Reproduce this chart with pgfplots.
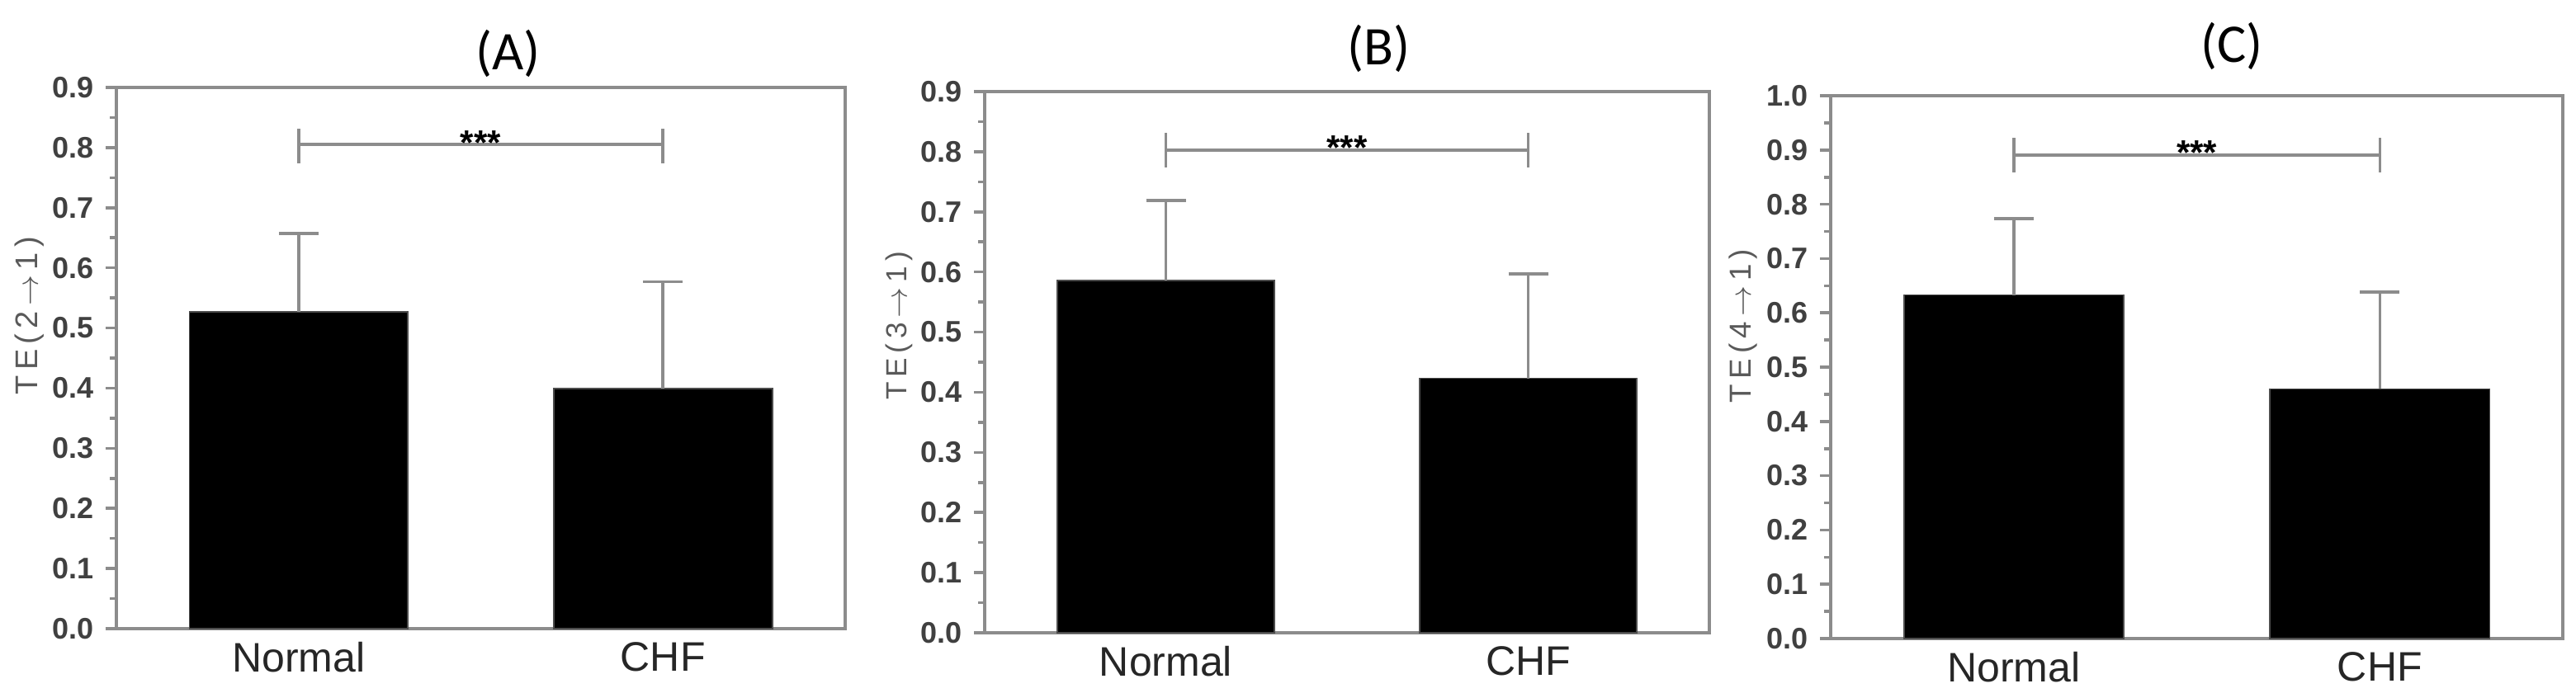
\documentclass[border=0pt]{standalone}
\usepackage{fontspec}
\setmainfont{Liberation Sans}
\newfontfamily\titlefont{Carlito}
\usepackage{pgfplots}
\pgfplotsset{compat=1.18}
\usepackage{pgfplotstable}

\definecolor{axgray}{gray}{0.55}
\definecolor{tickgray}{gray}{0.25}
\definecolor{labgray}{gray}{0.35}
\definecolor{errgray}{gray}{0.55}

\pgfplotstableread{
x y err
1 0.527 0.130
2 0.399 0.178
}\dataA
\pgfplotstableread{
x y err
1 0.586 0.133
2 0.423 0.174
}\dataB
\pgfplotstableread{
x y err
1 0.633 0.141
2 0.460 0.178
}\dataC

\pgfplotsset{
  panel/.style={
    scale only axis,
    clip=false,
    anchor=south west,
    xmin=0.5, xmax=2.5, ymin=0,
    axis line style={axgray, line width=1pt},
    xtick={1,2}, xticklabels={Normal,CHF},
    xtick style={draw=none},
    ytick distance=0.1, minor y tick num=1,
    y tick style={axgray, line width=0.9pt},
    tick align=outside,
    major tick length=3.25pt, minor tick length=2pt,
    ytick pos=left, xtick pos=bottom,
    /pgf/number format/assume math mode=true,
    yticklabel style={font=\fontsize{9}{10}\selectfont\bfseries, text=tickgray,
      /pgf/number format/fixed, /pgf/number format/fixed zerofill, /pgf/number format/precision=1},
    xticklabel style={font=\fontsize{12.5}{13}\selectfont, text=black!85, yshift=2.75pt},
    ylabel style={anchor=center, text=labgray},
  },
  bars/.style={ybar, bar width=0.6, bar shift=0pt, fill=black, draw=black!70,
    error bars/.cd, y dir=plus, y explicit,
    error bar style={errgray, line width=0.9pt},
    error mark options={errgray, line width=0.9pt, mark size=6pt, rotate=90}},
  sig/.style={axgray, line width=0.9pt},
}

\begin{document}
\begin{tikzpicture}
\path[use as bounding box] (0,0) rectangle (780.25pt,209.75pt);

% Panel A
\begin{axis}[panel, at={(35.25pt,19.25pt)}, width=220.75pt, height=164pt, ymax=0.9,
  ylabel={\fontsize{9.5}{10}\selectfont T\,E\,(\,2\,$\rightarrow$\,1\,)},
  ylabel style={at={(rel axis cs:-0.119,0.578)}}]
\addplot[bars] table[x=x, y=y, y error=err] {\dataA};
\addplot[sig] coordinates {(1,0.805) (2,0.805)};
\addplot[sig] coordinates {(1,0.774) (1,0.832)};
\addplot[sig] coordinates {(2,0.774) (2,0.832)};
\node[font=\fontsize{10.5}{10}\selectfont\bfseries, anchor=base, yshift=-3pt] at (axis cs:1.5,0.805) {***};
\node[font=\titlefont\fontsize{16.5}{17}\selectfont] at (rel axis cs:0.537,1) [yshift=10.25pt] {(A)};
\end{axis}

% Panel B
\begin{axis}[panel, at={(298.25pt,18pt)}, width=219.5pt, height=164pt, ymax=0.9,
  ylabel={\fontsize{8.8}{10}\selectfont T\,E\,(\,3\,$\rightarrow$\,1\,)},
  ylabel style={at={(rel axis cs:-0.118,0.567)}}]
\addplot[bars] table[x=x, y=y, y error=err] {\dataB};
\addplot[sig] coordinates {(1,0.803) (2,0.803)};
\addplot[sig] coordinates {(1,0.774) (1,0.831)};
\addplot[sig] coordinates {(2,0.774) (2,0.831)};
\node[font=\fontsize{10.5}{10}\selectfont\bfseries, anchor=base, yshift=-3pt] at (axis cs:1.5,0.803) {***};
\node[font=\titlefont\fontsize{16.5}{17}\selectfont] at (rel axis cs:0.544,1) [yshift=13pt] {(B)};
\end{axis}

% Panel C
\begin{axis}[panel, at={(554.5pt,16.25pt)}, width=221.75pt, height=164.5pt, ymax=1.0,
  ylabel={\fontsize{9.2}{10}\selectfont T\,E\,(\,4\,$\rightarrow$\,1\,)},
  ylabel style={at={(rel axis cs:-0.12,0.576)}}]
\addplot[bars] table[x=x, y=y, y error=err] {\dataC};
\addplot[sig] coordinates {(1,0.891) (2,0.891)};
\addplot[sig] coordinates {(1,0.859) (1,0.922)};
\addplot[sig] coordinates {(2,0.859) (2,0.922)};
\node[font=\fontsize{10.5}{10}\selectfont\bfseries, anchor=base, yshift=-3pt] at (axis cs:1.5,0.891) {***};
\node[font=\titlefont\fontsize{16.5}{17}\selectfont] at (rel axis cs:0.548,1) [yshift=15pt] {(C)};
\end{axis}
\end{tikzpicture}
\end{document}
